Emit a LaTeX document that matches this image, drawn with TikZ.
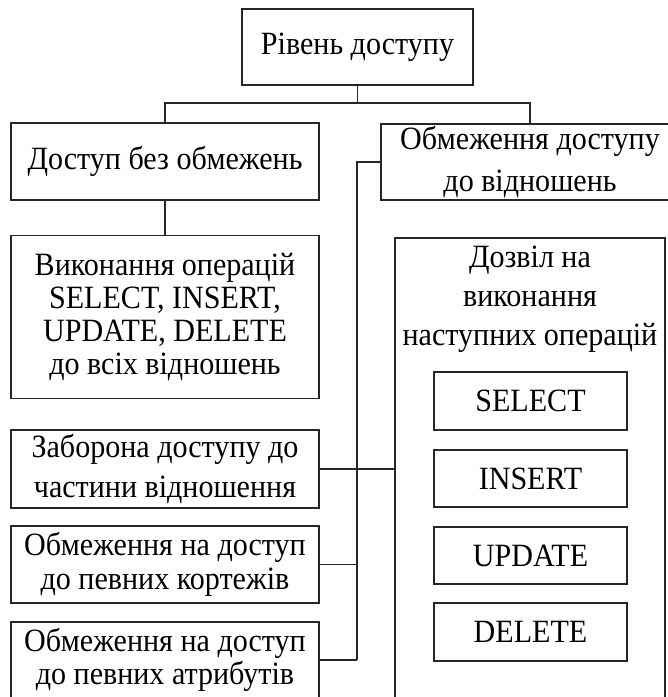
\documentclass[tikz,border=0pt]{standalone}
\usepackage{fontspec}
\setmainfont{Liberation Serif}[FakeStretch=0.925]
\begin{document}
\begin{tikzpicture}[x=1pt,y=-1pt,
  box/.style={draw=black!85, line width=1.2pt, rectangle, inner sep=0pt, align=center,
    font={\fontsize{32.5}{33}\selectfont}},
  txt/.style={inner sep=0pt, align=center},
  wire/.style={draw=black!85, line width=1.2pt}]
\useasboundingbox (0,0) rectangle (668,697);
% boxes
\node[box, minimum width=231pt, minimum height=76pt] (top) at (357.5,47) {Рівень доступу};
\node[box, minimum width=308pt, minimum height=77pt] (free) at (165,161.5) {Доступ без обмежень};
\node[box, minimum width=298pt, minimum height=76pt, font={\fontsize{32.5}{42}\selectfont}] (restr) at (530,162) {Обмеження доступу\\до відношень};
\node[box, minimum width=308pt, minimum height=163pt] (exec) at (165,317) {Виконання операцій\\SELECT, INSERT,\\UPDATE, DELETE\\до всіх відношень};
\node[box, minimum width=270pt, minimum height=460pt] (big) at (530,468) {};
\node[txt, font={\fontsize{32.5}{39}\selectfont}] (perm) at (530,299) {Дозвіл на\\виконання\\наступних операцій};
\node[box, minimum width=193pt, minimum height=58pt] (sel) at (530.5,401) {SELECT};
\node[box, minimum width=193pt, minimum height=57pt] (ins) at (530.5,478.5) {INSERT};
\node[box, minimum width=193pt, minimum height=57pt] (upd) at (530.5,555.5) {UPDATE};
\node[box, minimum width=193pt, minimum height=58pt] (del) at (530.5,632) {DELETE};
\node[box, minimum width=308pt, minimum height=78pt, font={\fontsize{32.5}{40}\selectfont}] (zab) at (165,469) {Заборона доступу до\\частини відношення};
\node[box, minimum width=308pt, minimum height=77pt, font={\fontsize{32.5}{34}\selectfont}] (kort) at (165,564.5) {Обмеження на доступ\\до певних кортежів};
\node[box, minimum width=308pt, minimum height=76pt, font={\fontsize{32.5}{33}\selectfont}] (atr) at (165,660) {Обмеження на доступ\\до певних атрибутів};
% connectors
\coordinate (bus) at (357.5,103);
\coordinate (spinetop) at (357,162);
\coordinate (spinebot) at (357,660);
\draw[wire] (top.south) -- (bus);
\draw[wire] (free.north) |- (bus) -| (restr.north);
\draw[wire] (free.south) -- (exec.north);
\draw[wire] (restr.west) -- (spinetop) -- (spinebot);
\draw[wire] (zab.east) -- (zab.east -| big.west);
\draw[wire] (kort.east) -- (kort.east -| spinetop);
\draw[wire] (atr.east) -- (spinebot);
\end{tikzpicture}
\end{document}
